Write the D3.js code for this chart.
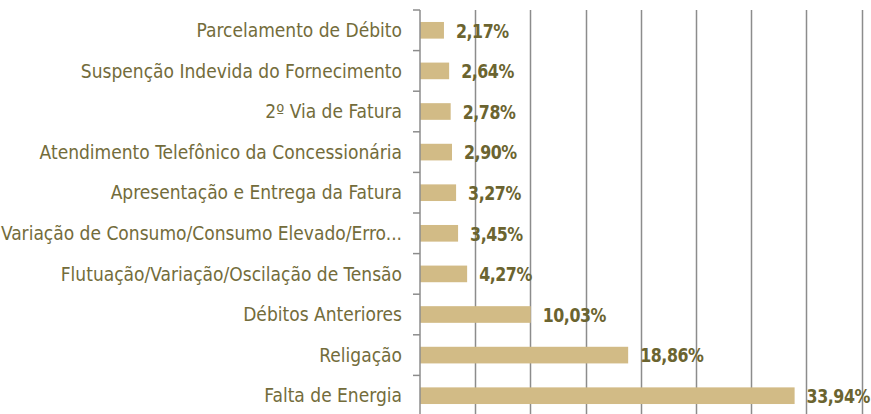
<!DOCTYPE html>
<html>
<head>
<meta charset="utf-8">
<script src="https://cdn.jsdelivr.net/npm/d3@7"></script>
<style>
  body { margin: 0; background: #fff; }
  svg { display: block; }
  .cat { font-family: "DejaVu Sans Condensed", "DejaVu Sans", sans-serif; fill: #736c3b; }
  .val { font-family: "DejaVu Sans Condensed", "DejaVu Sans", sans-serif; font-weight: bold; fill: #6b6430; }
</style>
</head>
<body>
<div id="chart"></div>
<script>
// categories, top to bottom
var categories = [
    "Parcelamento de Débito",
    "Suspenção Indevida do Fornecimento",
    "2º Via de Fatura",
    "Atendimento Telefônico da Concessionária",
    "Apresentação e Entrega da Fatura",
    "Variação de Consumo/Consumo Elevado/Erro...",
    "Flutuação/Variação/Oscilação de Tensão",
    "Débitos Anteriores",
    "Religação",
    "Falta de Energia"
];
var values = [2.17, 2.64, 2.78, 2.90, 3.27, 3.45, 4.27, 10.03, 18.86, 33.94];
var xTicks = [0, 5, 10, 15, 20, 25, 30, 35, 40];

var width = 871, height = 414;
var margin = {top: 10, right: 10, bottom: -2, left: 420};

var svg = d3.select("#chart")
    .append("svg")
    .attr("width", width)
    .attr("height", height);

var x = d3.scaleLinear()
    .domain([0, 40])
    .range([margin.left, margin.left + 441.5]);

var y = d3.scaleBand()
    .domain(categories)
    .range([margin.top, height - margin.bottom])
    .paddingInner(0.59)
    .paddingOuter(0.295);

// vertical gridlines
svg.append("g")
    .selectAll("line")
    .data(xTicks.slice(1))
    .enter()
    .append("line")
    .attr("x1", function (d) { return Math.round(x(d)) + 0.5; })
    .attr("x2", function (d) { return Math.round(x(d)) + 0.5; })
    .attr("y1", margin.top)
    .attr("y2", height)
    .style("stroke", "#8c8c8c")
    .style("stroke-width", 1.5);

// bars
svg.append("g")
    .selectAll("rect")
    .data(values)
    .enter()
    .append("rect")
    .attr("x", x(0))
    .attr("y", function (d, i) { return y(categories[i]); })
    .attr("width", function (d) { return x(d) - x(0); })
    .attr("height", y.bandwidth())
    .style("fill", "#d2bb86");

// left axis with ticks between categories
var yb = d3.scaleBand().domain(categories).range(y.range());
var axis = svg.append("g")
    .attr("transform", "translate(" + (x(0)) + ",0)");
axis.append("line")
    .attr("x1", 0).attr("x2", 0)
    .attr("y1", margin.top).attr("y2", height)
    .style("stroke", "#8c8c8c")
    .style("stroke-width", 1.5);
axis.selectAll(".tk")
    .data(categories)
    .enter()
    .append("line")
    .attr("class", "tk")
    .attr("x1", -7).attr("x2", 0)
    .attr("y1", function (d) { return yb(d); })
    .attr("y2", function (d) { return yb(d); })
    .style("stroke", "#8c8c8c")
    .style("stroke-width", 1.5);

// category labels
svg.append("g")
    .selectAll("text")
    .data(categories)
    .enter()
    .append("text")
    .attr("class", "cat")
    .attr("x", 402)
    .attr("y", function (d) { return yb(d) + yb.bandwidth() / 2; })
    .attr("dy", "0.35em")
    .attr("text-anchor", "end")
    .style("font-size", "19px")
    .text(function (d) { return d; });

// value labels (slightly condensed, like the original font)
svg.append("g")
    .selectAll("text")
    .data(values)
    .enter()
    .append("text")
    .attr("class", "val")
    .attr("transform", function (d, i) {
        return "translate(" + (x(d) + 12) + "," + (y(categories[i]) + y.bandwidth() / 2) + ") scale(0.88,1)";
    })
    .attr("dy", "0.36em")
    .style("font-size", "20px")
    .style("letter-spacing", "-0.5px")
    .text(function (d) { return d.toFixed(2).replace(".", ",") + "%"; });
</script>
</body>
</html>
